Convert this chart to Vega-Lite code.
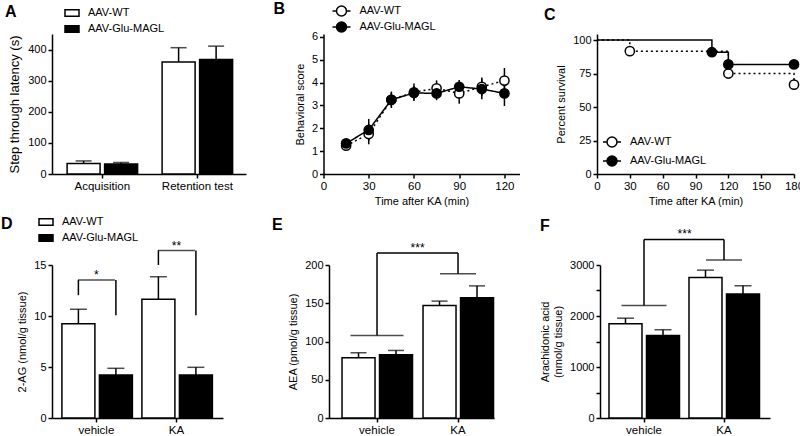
{
  "$schema": "https://vega.github.io/schema/vega-lite/v6.json",
  "background": "white",
  "padding": {"left": 1, "top": 1, "right": 0, "bottom": 0},
  "autosize": {"type": "pad"},
  "config": {
    "font": "Liberation Sans",
    "view": {"stroke": null},
    "axis": {"domainColor": "black", "domainWidth": 1.5, "tickColor": "black", "tickWidth": 1.5, "tickSize": 4, "labelFontSize": 11, "titleFontSize": 11, "labelColor": "black", "titleColor": "black", "grid": false, "titleFontWeight": "normal", "labelPadding": 2, "titlePadding": 6, "labelFlush": false, "labelOverlap": false},
    "axisX": {"labelAngle": 0, "labelFontSize": 11.5, "titlePadding": 4},
    "legend": {"padding": 0, "labelFontSize": 11, "labelColor": "black", "symbolStrokeColor": "black", "symbolStrokeWidth": 1.5, "direction": "vertical", "labelLimit": 200},
    "title": {"fontSize": 16, "fontWeight": "bold", "anchor": "start", "frame": "group", "color": "black", "offset": 0},
    "bar": {"stroke": "black", "strokeWidth": 1.5},
    "rule": {"color": "black", "strokeWidth": 1.5},
    "tick": {"color": "black", "thickness": 1.5}
  },
  "datasets": {
    "A": [
      {"test": "Acquisition", "group": "AAV-WT", "mean": 34, "upper": 42},
      {"test": "Acquisition", "group": "AAV-Glu-MAGL", "mean": 32, "upper": 37},
      {"test": "Retention test", "group": "AAV-WT", "mean": 360, "upper": 406},
      {"test": "Retention test", "group": "AAV-Glu-MAGL", "mean": 368, "upper": 411}
    ],
    "B": [
      {"time": 15, "group": "AAV-WT", "score": 1.24, "lo": 1.12, "hi": 1.36},
      {"time": 30, "group": "AAV-WT", "score": 1.75, "lo": 1.3, "hi": 2.2},
      {"time": 45, "group": "AAV-WT", "score": 3.25, "lo": 2.89, "hi": 3.61},
      {"time": 60, "group": "AAV-WT", "score": 3.58, "lo": 3.2, "hi": 3.96},
      {"time": 75, "group": "AAV-WT", "score": 3.75, "lo": 3.4, "hi": 4.1},
      {"time": 90, "group": "AAV-WT", "score": 3.53, "lo": 3.08, "hi": 3.98},
      {"time": 105, "group": "AAV-WT", "score": 3.82, "lo": 3.42, "hi": 4.22},
      {"time": 120, "group": "AAV-WT", "score": 4.09, "lo": 3.54, "hi": 4.64},
      {"time": 15, "group": "AAV-Glu-MAGL", "score": 1.34, "lo": 1.19, "hi": 1.49},
      {"time": 30, "group": "AAV-Glu-MAGL", "score": 1.93, "lo": 1.45, "hi": 2.41},
      {"time": 45, "group": "AAV-Glu-MAGL", "score": 3.25, "lo": 2.95, "hi": 3.55},
      {"time": 60, "group": "AAV-Glu-MAGL", "score": 3.55, "lo": 3.25, "hi": 3.85},
      {"time": 75, "group": "AAV-Glu-MAGL", "score": 3.53, "lo": 3.23, "hi": 3.83},
      {"time": 90, "group": "AAV-Glu-MAGL", "score": 3.82, "lo": 3.52, "hi": 4.12},
      {"time": 105, "group": "AAV-Glu-MAGL", "score": 3.72, "lo": 3.27, "hi": 4.17},
      {"time": 120, "group": "AAV-Glu-MAGL", "score": 3.53, "lo": 2.98, "hi": 4.08}
    ],
    "C": [
      {"time": 0, "group": "AAV-WT", "pct": 100},
      {"time": 30, "group": "AAV-WT", "pct": 91.7},
      {"time": 120, "group": "AAV-WT", "pct": 75},
      {"time": 180, "group": "AAV-WT", "pct": 66.7},
      {"time": 0, "group": "AAV-Glu-MAGL", "pct": 100},
      {"time": 105, "group": "AAV-Glu-MAGL", "pct": 90.9},
      {"time": 120, "group": "AAV-Glu-MAGL", "pct": 81.8},
      {"time": 180, "group": "AAV-Glu-MAGL", "pct": 81.8}
    ],
    "D": [
      {"condition": "vehicle", "group": "AAV-WT", "mean": 9.25, "upper": 10.66},
      {"condition": "vehicle", "group": "AAV-Glu-MAGL", "mean": 4.21, "upper": 4.87},
      {"condition": "KA", "group": "AAV-WT", "mean": 11.65, "upper": 13.85},
      {"condition": "KA", "group": "AAV-Glu-MAGL", "mean": 4.21, "upper": 4.97}
    ],
    "D_legs": [
      {"condition": "vehicle", "group": "AAV-WT", "top": 13.52, "bottom": 12.04},
      {"condition": "vehicle", "group": "AAV-Glu-MAGL", "top": 13.52, "bottom": 10.07},
      {"condition": "KA", "group": "AAV-WT", "top": 16.42, "bottom": 15.0},
      {"condition": "KA", "group": "AAV-Glu-MAGL", "top": 16.42, "bottom": 10.07}
    ],
    "D_sig": [
      {"condition": "vehicle", "top": 13.52, "label": "*"},
      {"condition": "KA", "top": 16.42, "label": "**"}
    ],
    "E": [
      {"condition": "vehicle", "group": "AAV-WT", "mean": 78.8, "upper": 85.3},
      {"condition": "vehicle", "group": "AAV-Glu-MAGL", "mean": 82.7, "upper": 88.3},
      {"condition": "KA", "group": "AAV-WT", "mean": 147.2, "upper": 152.8},
      {"condition": "KA", "group": "AAV-Glu-MAGL", "mean": 157.1, "upper": 172.7}
    ],
    "E_legs": [
      {"condition": "vehicle", "side": "left", "top": 215.6, "bottom": 107.8},
      {"condition": "KA", "side": "right", "top": 215.6, "bottom": 188.7}
    ],
    "E_sig": [{"from": "vehicle", "to": "KA", "top": 215.6, "label": "***"}],
    "F": [
      {"condition": "vehicle", "group": "AAV-WT", "mean": 1848, "upper": 1957},
      {"condition": "vehicle", "group": "AAV-Glu-MAGL", "mean": 1620, "upper": 1731},
      {"condition": "KA", "group": "AAV-WT", "mean": 2755, "upper": 2899},
      {"condition": "KA", "group": "AAV-Glu-MAGL", "mean": 2432, "upper": 2593}
    ],
    "F_legs": [
      {"condition": "vehicle", "side": "left", "top": 3502, "bottom": 2204},
      {"condition": "KA", "side": "right", "top": 3502, "bottom": 3099}
    ],
    "F_sig": [{"from": "vehicle", "to": "KA", "top": 3502, "label": "***"}]
  },
  "spacing": 7,
  "resolve": {"scale": {"fill": "independent"}, "legend": {"fill": "independent"}},
  "vconcat": [
    {
      "bounds": "flush",
      "spacing": 77.5,
      "resolve": {"scale": {"fill": "independent"}, "legend": {"fill": "independent"}},
      "hconcat": [
        {
          "width": 194, "height": 140,
          "title": {"text": "A", "dx": -47, "dy": 19, "anchor": "start", "frame": "group"},
          "data": {"name": "A"},
          "encoding": {
            "x": {"field": "test", "type": "nominal", "scale": {"domain": ["Acquisition", "Retention test"], "paddingInner": 0.258, "paddingOuter": 0.15, "align": 0.53}, "axis": {"title": null}}
          },
          "layer": [
            {
              "mark": {"type": "bar"},
              "encoding": {
                "xOffset": {"field": "group", "type": "nominal", "scale": {"domain": ["AAV-WT", "AAV-Glu-MAGL"], "paddingInner": 0.12, "paddingOuter": 0}},
                "y": {"field": "mean", "type": "quantitative", "scale": {"domain": [0, 450], "nice": false}, "axis": {"values": [0, 100, 200, 300, 400], "format": "d", "titleFontSize": 13}, "title": "Step through latency (s)"},
                "fill": {"field": "group", "type": "nominal", "scale": {"domain": ["AAV-WT", "AAV-Glu-MAGL"], "range": ["white", "black"]},
                  "legend": {"orient": "none", "legendX": 12, "legendY": -29, "title": null, "symbolType": "M-1,-0.45L1,-0.45L1,0.45L-1,0.45Z", "symbolSize": 196, "labelOffset": 8, "rowPadding": 1}}
              }
            },
            {"mark": {"type": "rule"}, "encoding": {"xOffset": {"field": "group", "type": "nominal"}, "y": {"field": "mean", "type": "quantitative", "axis": {"values": [0, 100, 200, 300, 400], "format": "d", "titleFontSize": 13}, "title": "Step through latency (s)"}, "y2": {"field": "upper"}}},
            {"mark": {"type": "tick", "size": 16}, "encoding": {"xOffset": {"field": "group", "type": "nominal"}, "y": {"field": "upper", "type": "quantitative", "axis": {"values": [0, 100, 200, 300, 400], "format": "d", "titleFontSize": 13}, "title": "Step through latency (s)"}}}
          ]
        },
        {
          "width": 196, "height": 140,
          "title": {"text": "B", "dx": -50, "dy": 16, "anchor": "start", "frame": "group"},
          "data": {"name": "B"},
          "encoding": {
            "x": {"field": "time", "type": "quantitative", "scale": {"domain": [0, 130], "nice": false}, "axis": {"values": [0, 30, 60, 90, 120]}, "title": "Time after KA (min)"}
          },
          "layer": [
            {"mark": {"type": "rule"}, "encoding": {"y": {"field": "lo", "type": "quantitative", "scale": {"domain": [0, 6.13], "nice": false}, "axis": {"values": [0, 1, 2, 3, 4, 5, 6]}, "title": "Behavioral score"}, "y2": {"field": "hi"}}},
            {"mark": {"type": "line", "color": "black", "strokeWidth": 1.5},
              "encoding": {"y": {"field": "score", "type": "quantitative", "axis": {"values": [0, 1, 2, 3, 4, 5, 6]}, "title": "Behavioral score"},
                "detail": {"field": "group", "type": "nominal"},
                "strokeDash": {"condition": {"test": "datum.group === 'AAV-WT'", "value": [2, 3]}, "value": [1, 0]}}},
            {"mark": {"type": "point", "filled": true, "size": 85, "stroke": "black", "strokeWidth": 1.5, "opacity": 1},
              "encoding": {"y": {"field": "score", "type": "quantitative", "axis": {"values": [0, 1, 2, 3, 4, 5, 6]}, "title": "Behavioral score"},
                "fill": {"field": "group", "type": "nominal", "scale": {"domain": ["AAV-WT", "AAV-Glu-MAGL"], "range": ["white", "black"]},
                  "legend": {"orient": "none", "legendX": 12, "legendY": -29, "title": null, "symbolType": "M-1.8,0L-1,0M1,0L1.8,0M1,0A1,1,0,1,1,-1,0A1,1,0,1,1,1,0Z", "symbolSize": 100, "labelOffset": 12, "rowPadding": 0}}}}
          ]
        },
        {
          "width": 197, "height": 140,
          "title": {"text": "C", "dx": -53, "dy": -7, "anchor": "start", "frame": "group"},
          "data": {"name": "C"},
          "encoding": {
            "x": {"field": "time", "type": "quantitative", "scale": {"domain": [0, 180], "nice": false}, "axis": {"values": [0, 30, 60, 90, 120, 150, 180]}, "title": "Time after KA (min)"},
            "y": {"field": "pct", "type": "quantitative", "scale": {"domain": [0, 104.5], "nice": false}, "axis": {"values": [0, 25, 50, 75, 100]}, "title": "Percent survival"}
          },
          "layer": [
            {"mark": {"type": "line", "color": "black", "strokeWidth": 1.5, "interpolate": "step-after"},
              "encoding": {"detail": {"field": "group", "type": "nominal"},
                "strokeDash": {"condition": {"test": "datum.group === 'AAV-WT'", "value": [2, 3]}, "value": [1, 0]}}},
            {"transform": [{"filter": "datum.time > 0"}],
              "mark": {"type": "point", "filled": true, "size": 85, "stroke": "black", "strokeWidth": 1.5, "opacity": 1},
              "encoding": {
                "fill": {"field": "group", "type": "nominal", "scale": {"domain": ["AAV-WT", "AAV-Glu-MAGL"], "range": ["white", "black"]},
                  "legend": {"orient": "none", "legendX": 9, "legendY": 102, "title": null, "symbolType": "M-1.8,0L-1,0M1,0L1.8,0M1,0A1,1,0,1,1,-1,0A1,1,0,1,1,1,0Z", "symbolSize": 100, "labelOffset": 12, "rowPadding": 3}}}}
          ]
        }
      ]
    },
    {
      "bounds": "flush",
      "spacing": 106,
      "resolve": {"scale": {"fill": "independent"}, "legend": {"fill": "independent"}},
      "hconcat": [
        {
          "width": 171, "height": 153,
          "title": {"text": "D", "dx": -51, "dy": 22, "anchor": "start", "frame": "group"},
          "encoding": {
            "x": {"field": "condition", "type": "nominal", "scale": {"domain": ["vehicle", "KA"], "paddingInner": 0.1375, "paddingOuter": 0.1375, "align": 0.45}, "axis": {"title": null}}
          },
          "layer": [
            {
              "data": {"name": "D"},
              "mark": {"type": "bar"},
              "encoding": {
                "xOffset": {"field": "group", "type": "nominal", "scale": {"domain": ["AAV-WT", "AAV-Glu-MAGL"], "paddingInner": 0.1, "paddingOuter": 0}},
                "y": {"field": "mean", "type": "quantitative", "scale": {"domain": [0, 15], "nice": false}, "axis": {"values": [0, 5, 10, 15], "format": "d"}, "title": "2-AG (nmol/g tissue)"},
                "fill": {"field": "group", "type": "nominal", "scale": {"domain": ["AAV-WT", "AAV-Glu-MAGL"], "range": ["white", "black"]},
                  "legend": {"orient": "none", "legendX": -14, "legendY": -51, "title": null, "symbolType": "M-1,-0.45L1,-0.45L1,0.45L-1,0.45Z", "symbolSize": 196, "labelOffset": 8, "rowPadding": 1}}
              }
            },
            {"data": {"name": "D"}, "mark": {"type": "rule"}, "encoding": {"xOffset": {"field": "group", "type": "nominal"}, "y": {"field": "mean", "type": "quantitative", "axis": {"values": [0, 5, 10, 15], "format": "d"}, "title": "2-AG (nmol/g tissue)"}, "y2": {"field": "upper"}}},
            {"data": {"name": "D"}, "mark": {"type": "tick", "size": 17}, "encoding": {"xOffset": {"field": "group", "type": "nominal"}, "y": {"field": "upper", "type": "quantitative", "axis": {"values": [0, 5, 10, 15], "format": "d"}, "title": "2-AG (nmol/g tissue)"}}},
            {"data": {"name": "D_legs"}, "mark": {"type": "rule"}, "encoding": {"xOffset": {"field": "group", "type": "nominal"}, "y": {"field": "top", "type": "quantitative", "axis": {"values": [0, 5, 10, 15], "format": "d"}, "title": "2-AG (nmol/g tissue)"}, "y2": {"field": "bottom"}}},
            {"data": {"name": "D_sig"}, "mark": {"type": "tick", "size": 37}, "encoding": {"y": {"field": "top", "type": "quantitative", "axis": {"values": [0, 5, 10, 15], "format": "d"}, "title": "2-AG (nmol/g tissue)"}}},
            {"data": {"name": "D_sig"}, "mark": {"type": "text", "fontSize": 12, "baseline": "alphabetic", "dy": -1, "color": "black"}, "encoding": {"y": {"field": "top", "type": "quantitative", "axis": {"values": [0, 5, 10, 15], "format": "d"}, "title": "2-AG (nmol/g tissue)"}, "text": {"field": "label"}}}
          ]
        },
        {
          "width": 165, "height": 153,
          "title": {"text": "E", "dx": -57, "dy": -5, "anchor": "start", "frame": "group"},
          "encoding": {
            "x": {"field": "condition", "type": "nominal", "scale": {"domain": ["vehicle", "KA"], "paddingInner": 0.136, "paddingOuter": 0.0864, "align": 0.93}, "axis": {"title": null}}
          },
          "layer": [
            {
              "data": {"name": "E"},
              "mark": {"type": "bar"},
              "encoding": {
                "xOffset": {"field": "group", "type": "nominal", "scale": {"domain": ["AAV-WT", "AAV-Glu-MAGL"], "paddingInner": 0.1, "paddingOuter": 0}},
                "y": {"field": "mean", "type": "quantitative", "scale": {"domain": [0, 200], "nice": false}, "axis": {"values": [0, 50, 100, 150, 200], "format": "d"}, "title": "AEA (pmol/g tissue)"},
                "fill": {"field": "group", "type": "nominal", "scale": {"domain": ["AAV-WT", "AAV-Glu-MAGL"], "range": ["white", "black"]}, "legend": null}
              }
            },
            {"data": {"name": "E"}, "mark": {"type": "rule"}, "encoding": {"xOffset": {"field": "group", "type": "nominal"}, "y": {"field": "mean", "type": "quantitative", "axis": {"values": [0, 50, 100, 150, 200], "format": "d"}, "title": "AEA (pmol/g tissue)"}, "y2": {"field": "upper"}}},
            {"data": {"name": "E"}, "mark": {"type": "tick", "size": 16}, "encoding": {"xOffset": {"field": "group", "type": "nominal"}, "y": {"field": "upper", "type": "quantitative", "axis": {"values": [0, 50, 100, 150, 200], "format": "d"}, "title": "AEA (pmol/g tissue)"}}},
            {"data": {"name": "E_legs"}, "mark": {"type": "rule"}, "encoding": {"y": {"field": "top", "type": "quantitative", "axis": {"values": [0, 50, 100, 150, 200], "format": "d"}, "title": "AEA (pmol/g tissue)"}, "y2": {"field": "bottom"}}},
            {"data": {"name": "E_legs"}, "transform": [{"filter": "datum.side === 'left'"}], "mark": {"type": "tick", "size": 53}, "encoding": {"y": {"field": "bottom", "type": "quantitative", "axis": {"values": [0, 50, 100, 150, 200], "format": "d"}, "title": "AEA (pmol/g tissue)"}}},
            {"data": {"name": "E_legs"}, "transform": [{"filter": "datum.side === 'right'"}], "mark": {"type": "tick", "size": 36}, "encoding": {"y": {"field": "bottom", "type": "quantitative", "axis": {"values": [0, 50, 100, 150, 200], "format": "d"}, "title": "AEA (pmol/g tissue)"}}},
            {"data": {"name": "E_sig"}, "mark": {"type": "rule"}, "encoding": {"x": {"field": "from", "type": "nominal", "bandPosition": 0.5}, "x2": {"field": "to", "bandPosition": 0.5}, "y": {"field": "top", "type": "quantitative", "axis": {"values": [0, 50, 100, 150, 200], "format": "d"}, "title": "AEA (pmol/g tissue)"}}},
            {"data": {"name": "E_sig"}, "mark": {"type": "text", "fontSize": 12, "baseline": "alphabetic", "dy": -1, "color": "black"}, "encoding": {"x": {"field": "from", "type": "nominal", "bandPosition": 1.08}, "y": {"field": "top", "type": "quantitative", "axis": {"values": [0, 50, 100, 150, 200], "format": "d"}, "title": "AEA (pmol/g tissue)"}, "text": {"field": "label"}}}
          ]
        },
        {
          "width": 170, "height": 153,
          "title": {"text": "F", "dx": -60, "dy": 10, "anchor": "start", "frame": "group"},
          "encoding": {
            "x": {"field": "condition", "type": "nominal", "scale": {"domain": ["vehicle", "KA"], "paddingInner": 0.125, "paddingOuter": 0.125, "align": 0.45}, "axis": {"title": null}}
          },
          "layer": [
            {
              "data": {"name": "F"},
              "mark": {"type": "bar"},
              "encoding": {
                "xOffset": {"field": "group", "type": "nominal", "scale": {"domain": ["AAV-WT", "AAV-Glu-MAGL"], "paddingInner": 0.1, "paddingOuter": 0}},
                "y": {"field": "mean", "type": "quantitative", "scale": {"domain": [0, 3000], "nice": false}, "axis": {"values": [0, 500, 1000, 1500, 2000, 2500, 3000], "format": "d", "labelExpr": "datum.value % 1000 === 0 ? datum.label : ''"}, "title": ["Arachidonic acid", "(nmol/g tissue)"]},
                "fill": {"field": "group", "type": "nominal", "scale": {"domain": ["AAV-WT", "AAV-Glu-MAGL"], "range": ["white", "black"]}, "legend": null}
              }
            },
            {"data": {"name": "F"}, "mark": {"type": "rule"}, "encoding": {"xOffset": {"field": "group", "type": "nominal"}, "y": {"field": "mean", "type": "quantitative", "axis": {"values": [0, 500, 1000, 1500, 2000, 2500, 3000], "format": "d", "labelExpr": "datum.value % 1000 === 0 ? datum.label : ''"}, "title": ["Arachidonic acid", "(nmol/g tissue)"]}, "y2": {"field": "upper"}}},
            {"data": {"name": "F"}, "mark": {"type": "tick", "size": 17}, "encoding": {"xOffset": {"field": "group", "type": "nominal"}, "y": {"field": "upper", "type": "quantitative", "axis": {"values": [0, 500, 1000, 1500, 2000, 2500, 3000], "format": "d", "labelExpr": "datum.value % 1000 === 0 ? datum.label : ''"}, "title": ["Arachidonic acid", "(nmol/g tissue)"]}}},
            {"data": {"name": "F_legs"}, "mark": {"type": "rule"}, "encoding": {"y": {"field": "top", "type": "quantitative", "axis": {"values": [0, 500, 1000, 1500, 2000, 2500, 3000], "format": "d", "labelExpr": "datum.value % 1000 === 0 ? datum.label : ''"}, "title": ["Arachidonic acid", "(nmol/g tissue)"]}, "y2": {"field": "bottom"}}},
            {"data": {"name": "F_legs"}, "transform": [{"filter": "datum.side === 'left'"}], "mark": {"type": "tick", "size": 45}, "encoding": {"y": {"field": "bottom", "type": "quantitative", "axis": {"values": [0, 500, 1000, 1500, 2000, 2500, 3000], "format": "d", "labelExpr": "datum.value % 1000 === 0 ? datum.label : ''"}, "title": ["Arachidonic acid", "(nmol/g tissue)"]}}},
            {"data": {"name": "F_legs"}, "transform": [{"filter": "datum.side === 'right'"}], "mark": {"type": "tick", "size": 36}, "encoding": {"y": {"field": "bottom", "type": "quantitative", "axis": {"values": [0, 500, 1000, 1500, 2000, 2500, 3000], "format": "d", "labelExpr": "datum.value % 1000 === 0 ? datum.label : ''"}, "title": ["Arachidonic acid", "(nmol/g tissue)"]}}},
            {"data": {"name": "F_sig"}, "mark": {"type": "rule"}, "encoding": {"x": {"field": "from", "type": "nominal", "bandPosition": 0.5}, "x2": {"field": "to", "bandPosition": 0.5}, "y": {"field": "top", "type": "quantitative", "axis": {"values": [0, 500, 1000, 1500, 2000, 2500, 3000], "format": "d", "labelExpr": "datum.value % 1000 === 0 ? datum.label : ''"}, "title": ["Arachidonic acid", "(nmol/g tissue)"]}}},
            {"data": {"name": "F_sig"}, "mark": {"type": "text", "fontSize": 12, "baseline": "alphabetic", "dy": -1, "color": "black"}, "encoding": {"x": {"field": "from", "type": "nominal", "bandPosition": 1.08}, "y": {"field": "top", "type": "quantitative", "axis": {"values": [0, 500, 1000, 1500, 2000, 2500, 3000], "format": "d", "labelExpr": "datum.value % 1000 === 0 ? datum.label : ''"}, "title": ["Arachidonic acid", "(nmol/g tissue)"]}, "text": {"field": "label"}}}
          ]
        }
      ]
    }
  ]
}
